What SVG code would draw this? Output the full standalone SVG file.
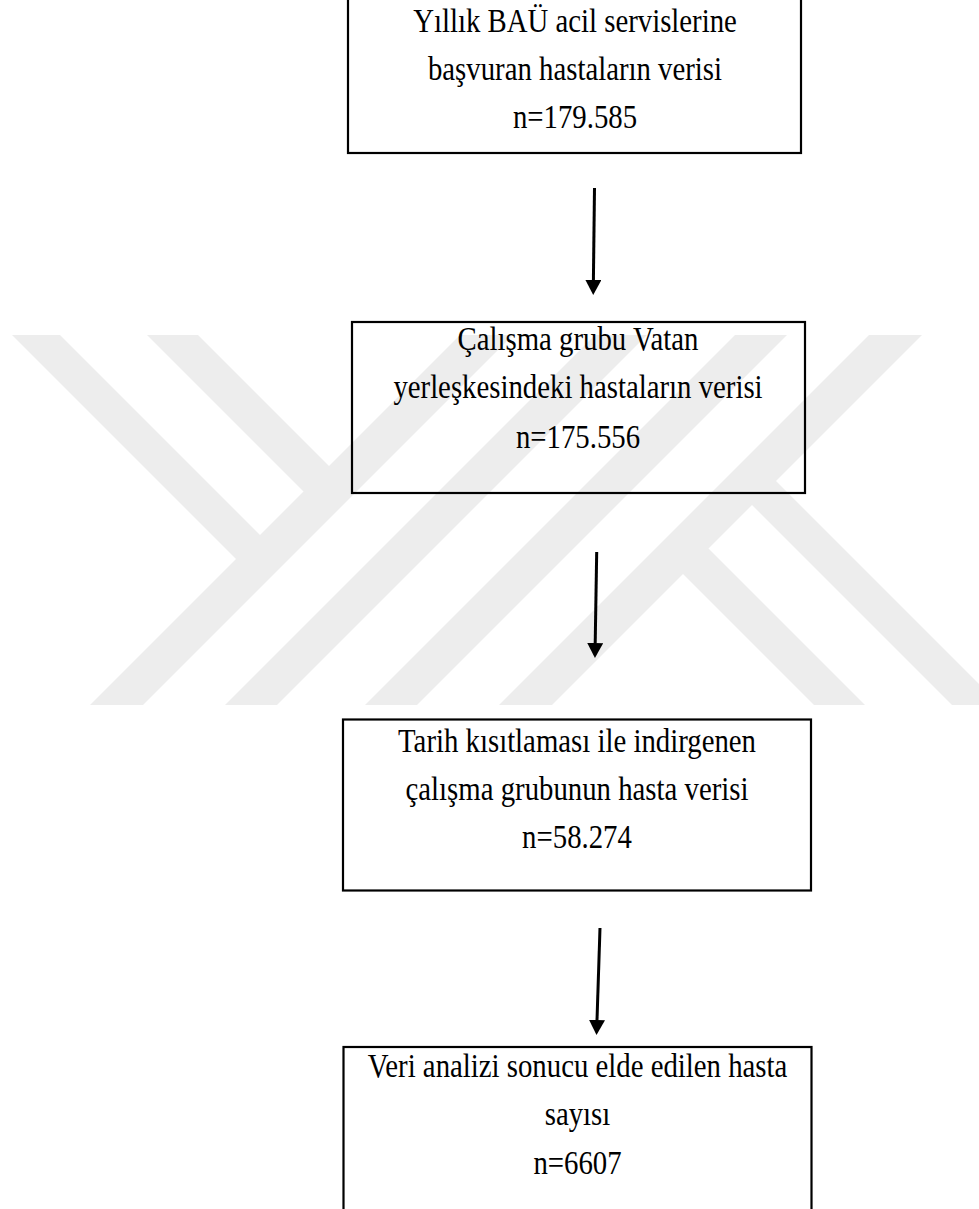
<svg xmlns="http://www.w3.org/2000/svg" width="979" height="1209" viewBox="0 0 979 1209">
<style>
.box{fill:none;stroke:#000;stroke-width:2.2}
.t{font-family:"Liberation Serif","Times New Roman",serif;font-size:28.8px;fill:#000;text-anchor:middle}
.wm{fill:#ededed}
.conn{stroke:#000;stroke-width:3;fill:none}
</style>
<defs>
<marker id="ah" markerUnits="userSpaceOnUse" markerWidth="15" markerHeight="16" viewBox="0 0 15 16" refX="0" refY="8" orient="auto"><path d="M0,0 L15,8 L0,16 Z" fill="#000"/></marker>
</defs>
<rect width="979" height="1209" fill="#fff"/>
<g id="watermark">
<polygon class="wm" points="12,335 60,335 273.25,548.25 249.25,572.25"/>
<polygon class="wm" points="147,335 198,335 342.25,479.25 316.75,504.75"/>
<polygon class="wm" points="90,705 143,705 513,335 460,335"/>
<polygon class="wm" points="225,705 277,705 647,335 595,335"/>
<polygon class="wm" points="365,705 417,705 787,335 735,335"/>
<polygon class="wm" points="499,705 552,705 922,335 869,335"/>
<polygon class="wm" points="952,705 1000,705 762.75,467.75 738.75,491.75"/>
<polygon class="wm" points="814,705 865,705 695.25,535.25 669.75,560.75"/>
</g>
<g id="n1">
<rect class="box" x="348" y="-18" width="453" height="171"/>
<text class="t" transform="translate(575,32) scale(1,1.15)">Yıllık BAÜ acil servislerine</text>
<text class="t" transform="translate(575,80) scale(1,1.15)">başvuran hastaların verisi</text>
<text class="t" transform="translate(575,128) scale(1,1.15)">n=179.585</text>
</g>
<g id="n2">
<rect class="box" x="352" y="322" width="453" height="171"/>
<text class="t" transform="translate(578,350) scale(1,1.15)">Çalışma grubu Vatan</text>
<text class="t" transform="translate(578,398) scale(1,1.15)">yerleşkesindeki hastaların verisi</text>
<text class="t" transform="translate(578,448) scale(1,1.15)">n=175.556</text>
</g>
<g id="n3">
<rect class="box" x="343" y="719.5" width="468" height="171"/>
<text class="t" transform="translate(577,752) scale(1,1.15)">Tarih kısıtlaması ile indirgenen</text>
<text class="t" transform="translate(577,800) scale(1,1.15)">çalışma grubunun hasta verisi</text>
<text class="t" transform="translate(577,848) scale(1,1.15)">n=58.274</text>
</g>
<g id="n4">
<rect class="box" x="343.5" y="1047" width="468" height="200"/>
<text class="t" transform="translate(577.5,1077) scale(1,1.15)">Veri analizi sonucu elde edilen hasta</text>
<text class="t" transform="translate(577.5,1125) scale(1,1.15)">sayısı</text>
<text class="t" transform="translate(577.5,1174) scale(1,1.15)">n=6607</text>
</g>
<g id="connectors">
<line class="conn" x1="594.5" y1="188" x2="593.4" y2="280" marker-end="url(#ah)"/>
<line class="conn" x1="596.7" y1="552" x2="595.2" y2="643" marker-end="url(#ah)"/>
<line class="conn" x1="600" y1="928" x2="597" y2="1020" marker-end="url(#ah)"/>
</g>
</svg>
